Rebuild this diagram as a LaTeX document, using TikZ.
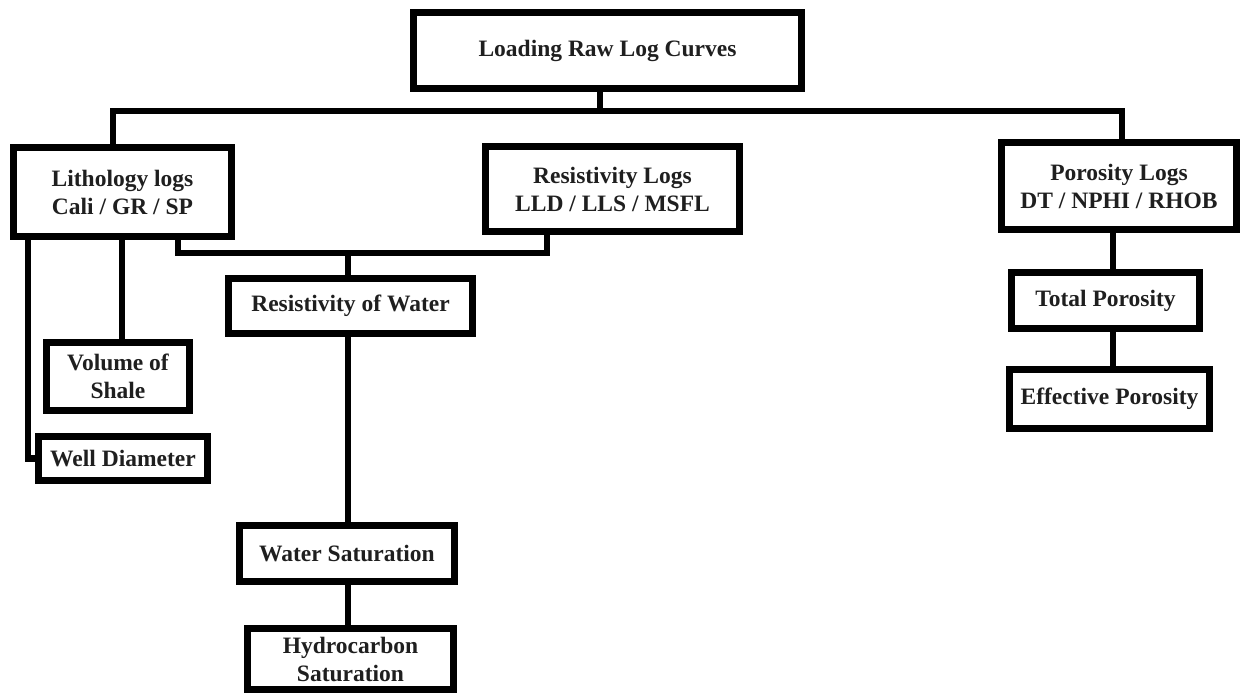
\documentclass[tikz,border=0pt]{standalone}
\usepackage{fontspec}
\setmainfont{Liberation Serif}
\begin{document}
\begin{tikzpicture}[x=1pt,y=-1pt,
  box/.style={draw=black, line width=7pt, fill=white, inner sep=0pt,
    align=center, text=black!88,
    font=\bfseries\fontsize{23.5}{28}\selectfont},
  link/.style={draw=black, line width=6.5pt, line join=miter}]
\useasboundingbox (0,0) rectangle (1242,693);

% boxes
\node[box, minimum width=388pt, minimum height=76pt] (top)   at (607.5,50.5) {Loading Raw Log Curves};
\node[box, minimum width=218pt, minimum height=89pt] (litho) at (122.5,192)  {Lithology logs\\Cali / GR / SP};
\node[box, minimum width=254pt, minimum height=85pt] (resist) at (612.5,189) {Resistivity Logs\\LLD / LLS / MSFL};
\node[box, minimum width=235pt, minimum height=87pt] (poros) at (1119,186)   {Porosity Logs\\DT / NPHI / RHOB};
\node[box, minimum width=143pt, minimum height=68pt] (vsh)   at (118,376.5)  {Volume of\\Shale};
\node[box, minimum width=169pt, minimum height=44pt] (well)  at (123,458.5)  {Well Diameter};
\node[box, minimum width=244pt, minimum height=55pt] (rw)    at (350.5,306)  {Resistivity of Water};
\node[box, minimum width=215pt, minimum height=56pt] (sw)    at (347,553.5)  {Water Saturation};
\node[box, minimum width=206pt, minimum height=61pt] (hc)    at (350.5,659)  {Hydrocarbon\\Saturation};
\node[box, minimum width=188pt, minimum height=56pt] (tphi)  at (1105.5,300.5) {Total Porosity};
\node[box, minimum width=200pt, minimum height=59pt] (ephi)  at (1109.5,399) {Effective Porosity};

% branch points
\coordinate (busL) at (113,111);
\coordinate (busM) at (600,111);
\coordinate (busR) at (1122,111);
\coordinate (xa) at (28,0);
\coordinate (xb) at (122,0);
\coordinate (xc) at (178,0);
\coordinate (xd) at (547,0);
\coordinate (jn) at (348,253);
\coordinate (xe) at (1113,0);

% connectors
\draw[link] (top.south -| busM) -- (busM);
\draw[link] (litho.north -| busL) |- (busR) -- (poros.north -| busR);
\draw[link] (litho.south -| xa) |- (well.west);
\draw[link] (litho.south -| xb) -- (vsh.north -| xb);
\draw[link] (litho.south -| xc) |- (jn) -| (resist.south -| xd);
\draw[link] (jn) -- (rw.north -| jn);
\draw[link] (rw.south -| jn) -- (sw.north -| jn);
\draw[link] (sw.south -| jn) -- (hc.north -| jn);
\draw[link] (poros.south -| xe) -- (tphi.north -| xe);
\draw[link] (tphi.south -| xe) -- (ephi.north -| xe);
\end{tikzpicture}
\end{document}
